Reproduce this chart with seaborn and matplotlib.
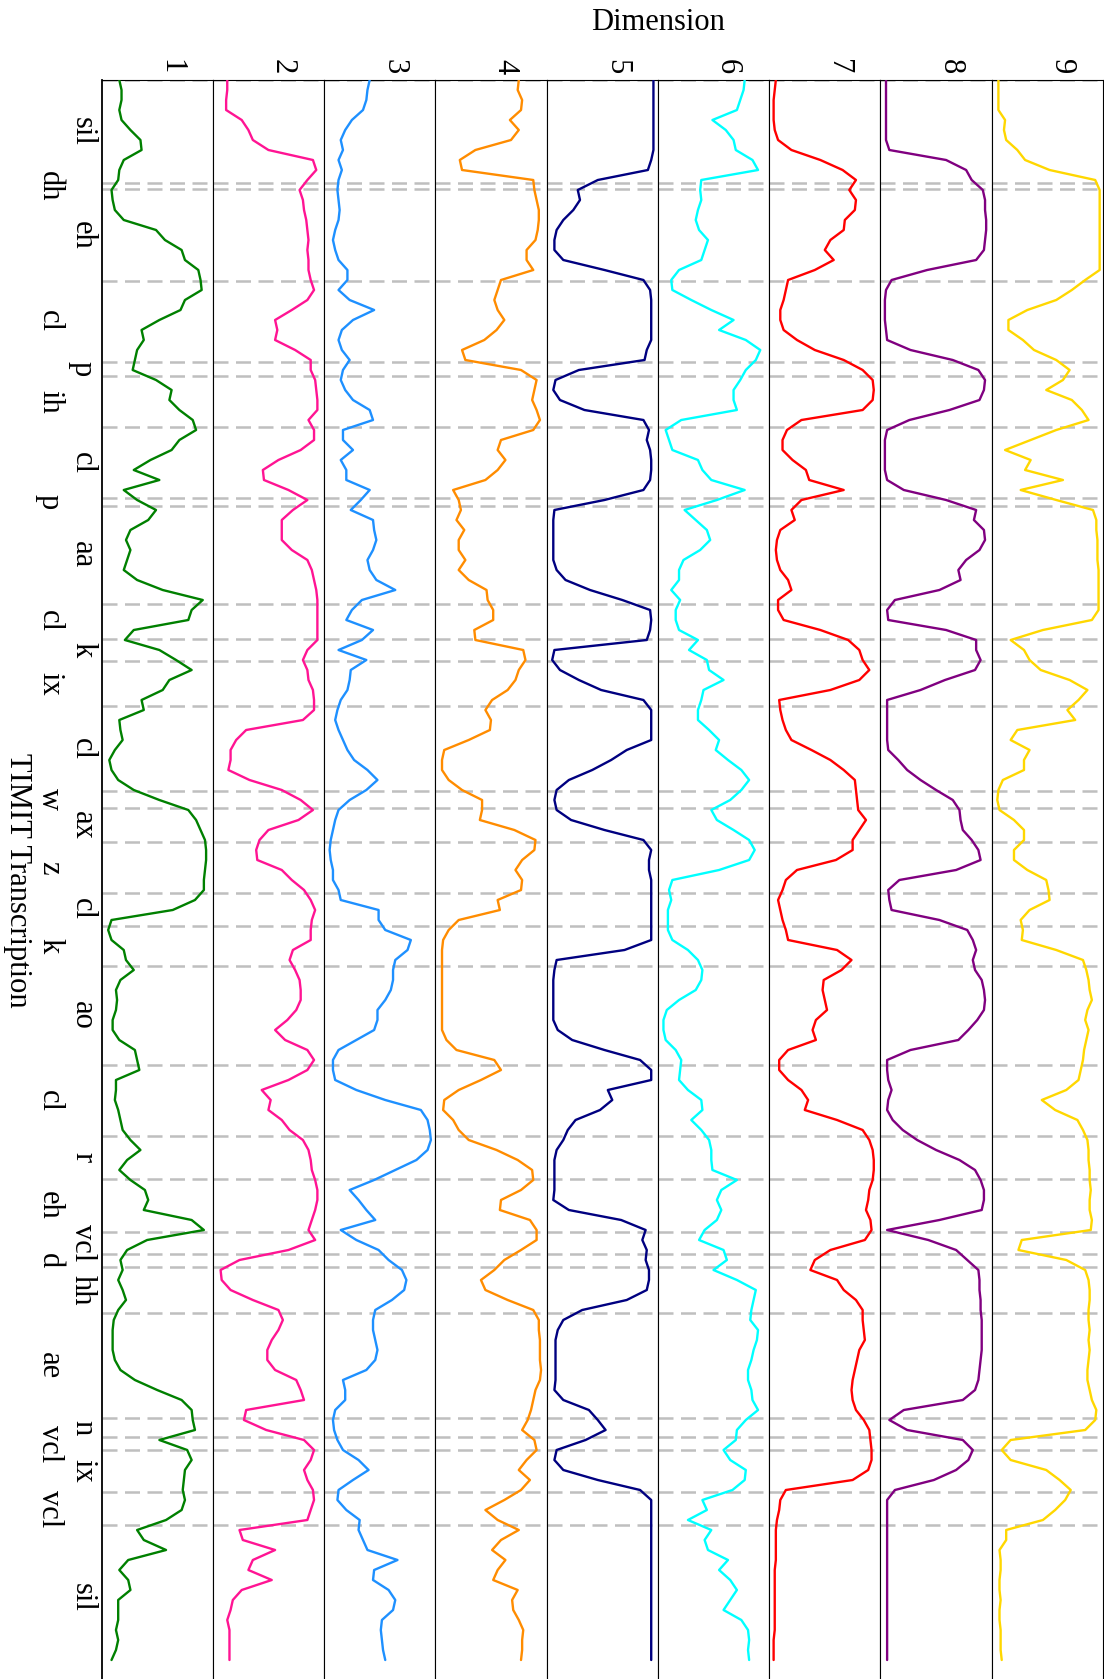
import numpy as np
import pandas as pd
import matplotlib
matplotlib.use("Agg")
import matplotlib.pyplot as plt
import matplotlib.transforms as mtransforms
import seaborn as sns

# Frame index (10 ms frames) shared by every dimension
frame = np.arange(159)

# Normalised activation of each latent dimension per frame (0 = low, 100 = high)
dim1 = [16, 18, 18, 16, 18, 26, 35, 36, 20, 16,
        15, 9, 10, 12, 20, 49, 57, 72, 75, 87,
        89, 90, 75, 71, 52, 36, 38, 32, 30, 28,
        49, 63, 61, 70, 82, 85, 70, 63, 44, 29,
        52, 20, 32, 49, 42, 26, 22, 26, 23, 20,
        32, 55, 91, 81, 78, 29, 21, 52, 67, 81,
        61, 55, 36, 38, 16, 17, 19, 12, 7, 9,
        15, 29, 52, 78, 85, 89, 93, 94, 94, 93,
        92, 92, 84, 64, 9, 6, 9, 20, 22, 29,
        17, 13, 14, 13, 10, 10, 16, 30, 32, 34,
        13, 13, 12, 15, 17, 19, 26, 35, 23, 16,
        26, 39, 42, 38, 81, 92, 41, 23, 17, 19,
        15, 19, 22, 15, 11, 10, 10, 10, 12, 17,
        30, 50, 72, 81, 82, 84, 52, 77, 81, 75,
        74, 73, 75, 72, 58, 32, 38, 58, 24, 16,
        24, 26, 15, 15, 15, 13, 15, 13, 9]

dim2 = [13, 13, 12, 12, 26, 32, 36, 50, 90, 93,
        85, 78, 81, 82, 84, 85, 86, 85, 86, 86,
        88, 91, 85, 71, 56, 58, 56, 74, 88, 88,
        92, 93, 94, 94, 86, 91, 91, 79, 59, 45,
        46, 68, 85, 72, 62, 62, 62, 71, 85, 89,
        91, 93, 94, 94, 94, 94, 94, 85, 81, 85,
        86, 90, 91, 91, 81, 30, 21, 16, 16, 14,
        33, 62, 79, 90, 77, 50, 42, 39, 40, 62,
        71, 82, 88, 92, 89, 88, 88, 72, 69, 74,
        78, 79, 79, 75, 67, 56, 65, 85, 91, 85,
        68, 44, 52, 50, 62, 69, 81, 86, 88, 89,
        92, 94, 94, 92, 89, 86, 92, 68, 24, 7,
        8, 16, 36, 59, 63, 59, 53, 49, 49, 56,
        75, 79, 82, 30, 28, 48, 82, 91, 88, 82,
        85, 90, 91, 88, 85, 24, 27, 56, 36, 32,
        53, 26, 18, 16, 13, 15, 15, 15, 15]

dim3 = [41, 39, 38, 35, 25, 19, 15, 17, 13, 16,
        13, 12, 13, 14, 13, 10, 8, 10, 13, 21,
        21, 13, 23, 45, 26, 16, 13, 16, 23, 17,
        15, 19, 26, 41, 44, 17, 17, 26, 15, 20,
        20, 41, 33, 24, 44, 45, 47, 44, 39, 41,
        47, 64, 34, 25, 20, 44, 34, 13, 38, 24,
        23, 21, 15, 12, 10, 13, 17, 21, 27, 39,
        48, 38, 23, 13, 10, 8, 6, 5, 6, 8,
        8, 13, 15, 49, 49, 55, 78, 75, 64, 62,
        62, 60, 55, 48, 48, 45, 29, 13, 8, 8,
        10, 29, 55, 87, 93, 95, 96, 93, 83, 64,
        45, 23, 31, 38, 46, 15, 29, 49, 58, 70,
        74, 72, 61, 46, 44, 44, 46, 48, 46, 38,
        17, 19, 19, 10, 8, 9, 12, 17, 31, 40,
        26, 13, 12, 20, 32, 31, 35, 39, 66, 45,
        44, 58, 64, 62, 52, 51, 52, 53, 55]

dim4 = [75, 74, 78, 77, 67, 75, 68, 36, 22, 24,
        88, 89, 91, 93, 93, 92, 90, 82, 82, 88,
        59, 56, 53, 56, 62, 55, 44, 24, 27, 77,
        91, 89, 87, 91, 94, 88, 59, 56, 63, 56,
        45, 16, 21, 23, 19, 26, 21, 21, 27, 21,
        30, 46, 47, 52, 52, 35, 36, 79, 81, 75,
        72, 65, 51, 45, 50, 49, 30, 8, 6, 6,
        12, 24, 42, 42, 40, 71, 90, 89, 78, 72,
        78, 77, 56, 58, 21, 12, 7, 6, 6, 6,
        6, 6, 6, 6, 6, 6, 10, 19, 53, 59,
        41, 21, 8, 7, 16, 21, 30, 55, 74, 87,
        88, 77, 59, 58, 85, 91, 91, 77, 62, 53,
        41, 45, 65, 88, 93, 93, 94, 94, 94, 95,
        94, 90, 88, 86, 83, 78, 89, 91, 82, 75,
        85, 77, 62, 45, 56, 75, 59, 51, 63, 56,
        52, 74, 69, 70, 75, 79, 78, 78, 77]

dim5 = [96, 96, 96, 96, 96, 96, 96, 96, 94, 91,
        46, 28, 30, 24, 15, 9, 7, 7, 15, 52,
        87, 93, 94, 94, 94, 94, 94, 90, 88, 29,
        8, 6, 12, 34, 87, 92, 90, 93, 94, 94,
        93, 87, 52, 7, 6, 6, 6, 6, 6, 9,
        17, 39, 68, 93, 94, 93, 90, 7, 5, 12,
        29, 49, 87, 94, 94, 94, 94, 72, 58, 41,
        20, 9, 7, 9, 22, 52, 87, 94, 92, 92,
        94, 94, 94, 94, 94, 94, 94, 70, 9, 7,
        6, 6, 6, 6, 6, 10, 23, 52, 84, 94,
        94, 55, 59, 48, 26, 19, 15, 9, 7, 7,
        7, 7, 6, 20, 67, 89, 86, 90, 89, 92,
        92, 90, 72, 32, 15, 10, 8, 8, 8, 8,
        8, 7, 15, 38, 46, 53, 35, 9, 7, 15,
        46, 84, 94, 94, 94, 94, 94, 94, 94, 94,
        94, 94, 94, 94, 94, 94, 94, 94, 94]

dim6 = [78, 77, 74, 71, 49, 61, 68, 70, 85, 90,
        39, 38, 39, 36, 34, 37, 45, 42, 39, 19,
        12, 13, 30, 48, 68, 55, 79, 92, 88, 79,
        74, 68, 68, 71, 21, 7, 10, 13, 36, 40,
        48, 78, 53, 24, 34, 44, 47, 38, 23, 19,
        19, 12, 20, 16, 16, 19, 36, 28, 44, 46,
        59, 41, 39, 36, 36, 46, 55, 52, 63, 75,
        82, 75, 65, 48, 53, 68, 82, 87, 82, 55,
        13, 10, 12, 9, 9, 9, 13, 27, 36, 40,
        39, 34, 19, 8, 5, 5, 7, 16, 21, 20,
        19, 27, 39, 40, 30, 39, 46, 48, 48, 49,
        71, 57, 53, 57, 53, 42, 37, 59, 62, 50,
        71, 88, 86, 84, 83, 90, 89, 86, 84, 81,
        81, 84, 85, 90, 79, 71, 70, 59, 65, 79,
        78, 67, 40, 44, 27, 48, 42, 45, 63, 55,
        65, 71, 65, 59, 75, 81, 82, 81, 82]

dim7 = [6, 5, 4, 4, 4, 5, 8, 20, 46, 66,
        78, 72, 78, 77, 68, 67, 55, 50, 58, 41,
        17, 15, 13, 10, 10, 13, 25, 41, 67, 84,
        93, 94, 93, 84, 29, 16, 12, 12, 21, 33,
        36, 67, 29, 20, 23, 10, 7, 6, 7, 10,
        17, 20, 8, 8, 13, 46, 71, 81, 84, 90,
        81, 55, 9, 10, 12, 15, 20, 38, 55, 67,
        77, 78, 79, 80, 87, 81, 75, 75, 60, 25,
        15, 12, 8, 10, 12, 15, 17, 61, 74, 65,
        49, 48, 50, 52, 42, 39, 42, 17, 9, 9,
        17, 29, 35, 32, 61, 84, 90, 93, 94, 94,
        93, 90, 89, 87, 91, 92, 86, 55, 41, 37,
        61, 67, 78, 84, 84, 85, 86, 81, 79, 77,
        75, 74, 75, 78, 85, 90, 91, 92, 92, 89,
        75, 15, 10, 9, 7, 6, 6, 6, 6, 5,
        5, 5, 5, 5, 5, 5, 4, 4, 4]

dim8 = [5, 5, 5, 5, 5, 5, 5, 8, 59, 77,
        82, 92, 94, 94, 95, 95, 94, 93, 86, 42,
        10, 5, 4, 4, 4, 5, 6, 27, 65, 88,
        94, 93, 89, 62, 26, 6, 4, 4, 4, 4,
        6, 21, 59, 86, 84, 93, 94, 89, 77, 70,
        72, 53, 13, 6, 7, 59, 86, 86, 90, 85,
        58, 36, 6, 6, 6, 6, 6, 7, 16, 24,
        36, 50, 65, 71, 72, 74, 82, 88, 90, 68,
        17, 7, 8, 10, 53, 78, 83, 86, 83, 85,
        91, 93, 94, 93, 87, 79, 70, 27, 6, 6,
        7, 10, 7, 6, 11, 20, 33, 50, 71, 85,
        90, 93, 93, 91, 53, 6, 43, 68, 78, 88,
        89, 89, 90, 90, 91, 91, 91, 91, 90, 89,
        88, 85, 74, 21, 8, 24, 74, 83, 79, 68,
        48, 13, 6, 6, 6, 6, 6, 6, 6, 6,
        6, 6, 6, 6, 6, 6, 6, 6, 6]

dim9 = [6, 6, 6, 6, 12, 11, 13, 23, 30, 52,
        93, 97, 97, 97, 97, 97, 97, 97, 97, 97,
        84, 72, 58, 32, 15, 15, 28, 38, 58, 70,
        64, 49, 72, 81, 87, 58, 35, 12, 35, 30,
        64, 26, 58, 91, 94, 94, 95, 95, 95, 96,
        96, 96, 96, 96, 90, 46, 17, 29, 34, 44,
        70, 86, 78, 68, 75, 23, 17, 34, 29, 29,
        10, 6, 5, 7, 20, 29, 29, 20, 20, 32,
        49, 51, 52, 34, 26, 28, 27, 58, 82, 85,
        87, 88, 90, 86, 84, 87, 85, 83, 82, 80,
        78, 67, 45, 57, 77, 82, 86, 87, 87, 88,
        88, 89, 88, 88, 90, 89, 27, 24, 67, 84,
        87, 88, 88, 87, 87, 88, 87, 88, 87, 86,
        86, 88, 90, 94, 93, 84, 17, 9, 17, 49,
        61, 71, 66, 57, 46, 13, 13, 7, 8, 8,
        7, 7, 8, 7, 7, 8, 8, 8, 9]

dimension_labels = ["1", "2", "3", "4", "5", "6", "7", "8", "9"]
line_colors = ["green", "deeppink", "dodgerblue", "darkorange", "navy",
               "cyan", "red", "purple", "gold"]

# TIMIT phone segmentation (frame boundaries)
phones = ["sil", "dh", "eh", "cl", "p", "ih", "cl", "p", "aa", "cl", "k", "ix",
          "cl", "w", "ax", "z", "cl", "k", "ao", "cl", "r", "eh", "vcl", "d",
          "hh", "ae", "n", "vcl", "ix", "vcl", "sil"]
phone_edges = [0, 10.3, 10.9, 20.1, 28.2, 29.6, 34.7, 41.8, 42.6, 52.4, 55.9,
               58.1, 62.6, 71.1, 72.8, 76.2, 81.3, 84.6, 88.6, 98.5, 105.6,
               109.9, 115.2, 117.4, 118.7, 123.3, 133.8, 135.7, 137.0, 141.2,
               144.5, 159.0]

sns.set_theme(style="white")
plt.rcParams["font.family"] = ["Liberation Serif", "DejaVu Serif"]
plt.rcParams["axes.linewidth"] = 0.8
plt.rcParams["text.color"] = "black"

W, H = 1104, 1679
fig = plt.figure(figsize=(W / 100, H / 100), dpi=100)

x0, x1 = 101.5 / W, 1103.0 / W
y_top = 1 - 80.0 / H
col_w = (x1 - x0) / 9
t_max = (H - 80.0) / 10.0

series = [dim1, dim2, dim3, dim4, dim5, dim6, dim7, dim8, dim9]
axes = []
for i, (vals, color, lab) in enumerate(zip(series, line_colors, dimension_labels)):
    ax = fig.add_axes([x0 + i * col_w, 0.0, col_w, y_top])
    axes.append(ax)
    for e in phone_edges[:-1]:
        ax.axhline(e, color="#bfbfbf", lw=1.8, dashes=(6, 3), zorder=1)
    df = pd.DataFrame({"frame": frame, "value": vals})
    sns.lineplot(data=df, x="value", y="frame", orient="y", estimator=None,
                 sort=True, color=color, lw=1.7, ax=ax, zorder=3)
    ax.set_xlim(0, 100)
    ax.set_ylim(t_max, 0)
    ax.set_xticks([])
    ax.set_yticks([])
    ax.set_xlabel("")
    ax.set_ylabel("")
    for side in ("left", "right", "top"):
        ax.spines[side].set_visible(True)
        ax.spines[side].set_color("black")
        ax.spines[side].set_linewidth(0.8)
    ax.spines["bottom"].set_visible(False)
    ax.text(0.5 + 6.5 / (col_w * W), 1 + 13.0 / (H - 80.0), lab,
            transform=ax.transAxes, rotation=-90, rotation_mode="anchor",
            ha="center", va="baseline", fontsize=22, color="black")

axes[0].spines["left"].set_linewidth(1.3)

# Phone labels, alternating between two rows
trans = mtransforms.blended_transform_factory(fig.transFigure, axes[0].transData)
for k, ph in enumerate(phones):
    mid = 0.5 * (phone_edges[k] + phone_edges[k + 1])
    xb = 75.0 if k % 2 == 0 else 42.0
    fig.text(xb / W, mid, ph, transform=trans, rotation=-90,
             rotation_mode="anchor", ha="center", va="baseline", fontsize=22,
             color="black")

fig.text(10.0 / W, 1 - 880.0 / H, "TIMIT Transcription", rotation=-90,
         rotation_mode="anchor", ha="center", va="baseline", fontsize=22,
         color="black")
fig.text(658.0 / W, 1 - 30.0 / H, "Dimension", ha="center", va="baseline",
         fontsize=22, color="black")

fig.savefig("out.png", dpi=100)
